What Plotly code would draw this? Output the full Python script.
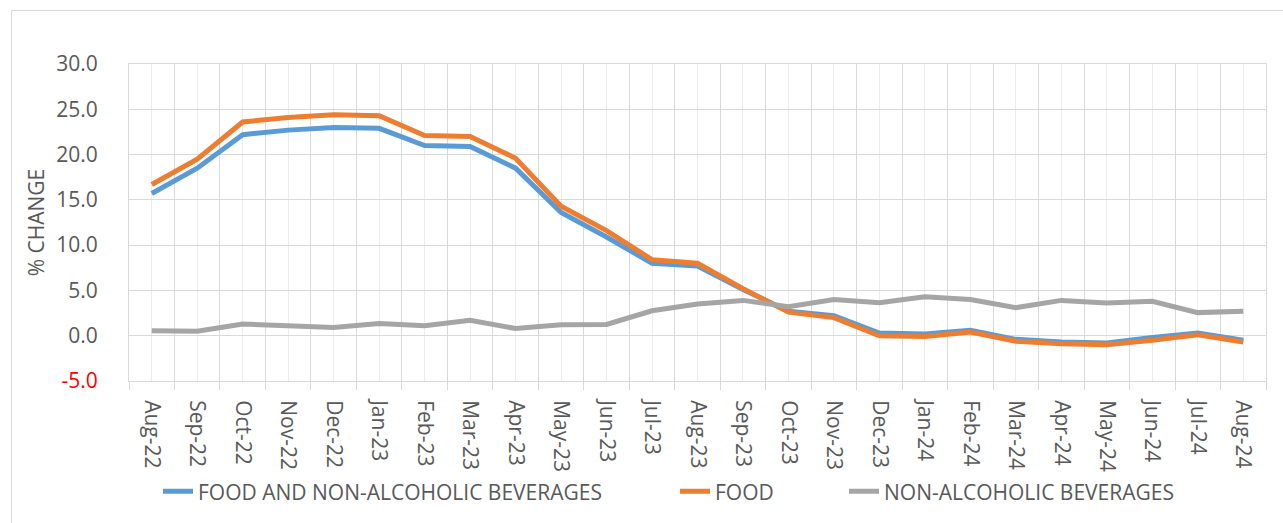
import plotly.graph_objects as go

months = ["Aug-22", "Sep-22", "Oct-22", "Nov-22", "Dec-22", "Jan-23", "Feb-23", "Mar-23",
          "Apr-23", "May-23", "Jun-23", "Jul-23", "Aug-23", "Sep-23", "Oct-23", "Nov-23",
          "Dec-23", "Jan-24", "Feb-24", "Mar-24", "Apr-24", "May-24", "Jun-24", "Jul-24", "Aug-24"]

food_nab = [15.7, 18.5, 22.2, 22.7, 23.0, 22.9, 21.0, 20.9, 18.5, 13.6, 10.9, 8.0, 7.7,
            5.1, 2.7, 2.2, 0.3, 0.2, 0.6, -0.4, -0.7, -0.8, -0.2, 0.3, -0.5]
food = [16.7, 19.5, 23.6, 24.1, 24.4, 24.3, 22.1, 22.0, 19.6, 14.3, 11.6, 8.4, 8.0,
        5.2, 2.6, 2.0, 0.0, -0.1, 0.4, -0.6, -0.9, -1.0, -0.5, 0.1, -0.7]
nab = [0.55, 0.5, 1.3, 1.05, 0.9, 1.35, 1.1, 1.7, 0.8, 1.2, 1.25, 2.75, 3.5,
       3.9, 3.2, 4.0, 3.65, 4.3, 4.0, 3.1, 3.9, 3.6, 3.8, 2.55, 2.7]

series_names = ["FOOD AND NON-ALCOHOLIC BEVERAGES", "FOOD", "NON-ALCOHOLIC BEVERAGES"]
series_colors = ["#5B9BD5", "#ED7D31", "#A5A5A5"]
y_ticks = [-5, 0, 5, 10, 15, 20, 25, 30]

FONT = "Open Sans"
TXT = "#595959"

x_idx = list(range(len(months)))
fig = go.Figure()
legends = ["legend", "legend2", "legend3"]
for vals, name, col, lg in zip([food_nab, food, nab], series_names, series_colors, legends):
    fig.add_trace(go.Scatter(x=x_idx, y=vals, mode="lines", name=name, showlegend=True,
                             line=dict(color=col, width=5), legend=lg))

W, H = 1283, 523
L, R, T, B = 129, 16.5, 64, 142.3
pw, ph = W - L - R, H - T - B

def px_x(p):
    return (p - L) / pw

def px_y(p):
    return (H - B - p) / ph

def cx(p):
    return p / W

def cy(p):
    return 1 - p / H

ticktext = [("<span style='color:#FF0000'>%.1f</span>" % v) if v < 0 else "%.1f" % v for v in y_ticks]

leg_common = dict(orientation="h", yanchor="middle", xanchor="left",
                  xref="container", yref="container", visible=True,
                  bgcolor="rgba(0,0,0,0)", font=dict(family=FONT, size=21, color=TXT))
leg_y = cy(491.7)

fig.update_layout(
    width=W, height=H,
    showlegend=True,
    margin=dict(l=L, r=R, t=T, b=B, autoexpand=False),
    paper_bgcolor="white", plot_bgcolor="white",
    font=dict(family=FONT, size=21, color=TXT),
    legend=dict(x=cx(158), y=leg_y, **leg_common),
    legend2=dict(x=cx(675), y=leg_y, **leg_common),
    legend3=dict(x=cx(844), y=leg_y, **leg_common),
    xaxis=dict(
        range=[-0.5, 24.5], tickmode="array", tickvals=x_idx, ticktext=months,
        tickangle=90, showgrid=True, gridcolor="#EDEDED", gridwidth=1,
        ticks="", ticklabelstandoff=14, zeroline=False,
        tickfont=dict(family=FONT, size=21, color=TXT),
        showline=True, linecolor="#D9D9D9", linewidth=1, mirror=True,
        minor=dict(tick0=0.5, dtick=1, showgrid=True, gridcolor="#D9D9D9", gridwidth=1,
                   ticks="outside", ticklen=8, tickcolor="#D9D9D9", tickwidth=1),
    ),
    yaxis=dict(
        range=[-5, 30], tickmode="array", tickvals=y_ticks, ticktext=ticktext,
        showgrid=True, gridcolor="#D9D9D9", gridwidth=1, zeroline=False,
        ticks="", ticklabelstandoff=26,
        tickfont=dict(family=FONT, size=21, color=TXT),
        showline=True, linecolor="#D9D9D9", linewidth=1, mirror=True,
        title=dict(text="% CHANGE", font=dict(family=FONT, size=21, color=TXT), standoff=5),
    ),
    shapes=[dict(type="rect", xref="paper", yref="paper",
                 x0=px_x(11.5), x1=px_x(1295), y0=px_y(540), y1=px_y(10.5),
                 line=dict(color="#D9D9D9", width=1), fillcolor="rgba(0,0,0,0)", layer="below")],
)

fig.write_html("out.html", config={"displayModeBar": False},
               post_script="document.body.style.margin='0px';")
